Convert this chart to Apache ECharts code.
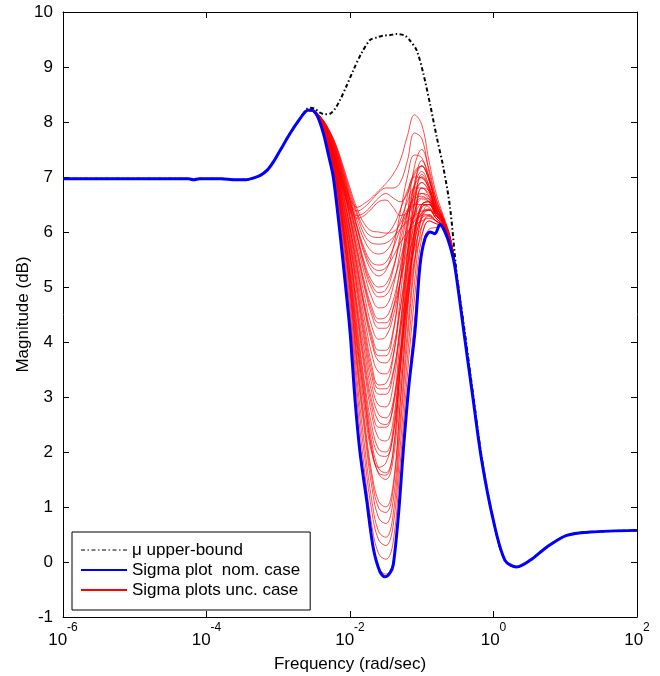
<!DOCTYPE html>
<html>
<head>
<meta charset="utf-8">
<script src="https://cdn.jsdelivr.net/npm/echarts@6/dist/echarts.min.js"></script>
<style>
html,body{margin:0;padding:0;background:#fff;}
#chart{width:660px;height:676px;}
</style>
</head>
<body>
<div id="chart"></div>
<script>
// x values are log10 of frequency (rad/sec)
const xTickExp = [-6, -4, -2, 0, 2];

// nominal sigma plot
const nomLogF = [-6, -5.5, -5, -4.5, -4.25, -4.18, -4.1, -3.8, -3.6, -3.45, -3.35, -3.25, -3.15, -3.07, -2.975,
  -2.836, -2.697, -2.6, -2.54, -2.46, -2.37, -2.3, -2.233, -2.139, -2.07, -2.0, -1.93, -1.861, -1.767, -1.675,
  -1.582, -1.512, -1.443, -1.397, -1.327, -1.257, -1.18, -1.094, -1.024, -0.955, -0.885, -0.815, -0.746, -0.676,
  -0.606, -0.537, -0.397, -0.282, -0.165, -0.003, 0.16, 0.323, 0.509, 0.741, 1.02, 1.345, 2.0];
const nomMag = [6.97, 6.97, 6.97, 6.97, 6.97, 6.95, 6.97, 6.97, 6.95, 6.95, 6.98, 7.03, 7.13, 7.27, 7.48,
  7.79, 8.06, 8.21, 8.22, 8.12, 7.79, 7.4, 7.0, 5.97, 5.12, 4.2, 2.95, 2.0, 1.12, 0.25,
  -0.18, -0.27, -0.2, -0.05, 0.82, 2.03, 3.2, 4.2, 5.4, 5.88, 6.0, 5.97, 6.14, 6.0,
  5.75, 5.36, 4.03, 2.94, 1.85, 0.76, 0.03, -0.09, 0.03, 0.27, 0.485, 0.545, 0.575];

// mu upper bound, where it leaves the nominal curve
const muLogF = [-2.6, -2.557, -2.49, -2.418, -2.35, -2.279, -2.21, -2.139, -2.05, -1.954, -1.84, -1.721, -1.62,
  -1.536, -1.44, -1.349, -1.233, -1.164, -1.07, -0.978, -0.885, -0.792, -0.70, -0.606, -0.513, -0.397, -0.282, -0.165];
const muMag = [8.24, 8.26, 8.24, 8.17, 8.14, 8.15, 8.24, 8.4, 8.65, 8.94, 9.25, 9.49, 9.54,
  9.57, 9.58, 9.6, 9.57, 9.48, 9.3, 8.88, 8.33, 7.73, 7.18, 6.45, 5.25, 4.15, 3.02, 1.9];

// uncertain cases, on a shared frequency grid
const uncLogF = [-2.6, -2.5, -2.4, -2.3, -2.2, -2.1, -2.0, -1.9, -1.8, -1.7, -1.6, -1.5,
  -1.4, -1.3, -1.2, -1.1, -1.0, -0.9, -0.8, -0.7, -0.6, -0.5, -0.4];
const uncMag = [
  [8.21, 8.17, 7.9, 7.42, 6.72, 5.55, 4.25, 2.6, 1.45, 0.4, -0.1, -0.22, 0.0, 1.4, 3.0, 4.4, 5.7, 6.05, 6.08, 6.1, 5.78, 5.03, 4.06],
  [8.21, 8.18, 7.92, 7.46, 6.8, 5.7, 4.45, 2.9, 1.7, 0.7, 0.15, 0.05, 0.35, 1.8, 3.4, 4.8, 5.9, 6.2, 6.15, 6.1, 5.8, 5.04, 4.06],
  [8.21, 8.18, 7.93, 7.5, 6.85, 5.8, 4.6, 3.1, 1.95, 0.95, 0.4, 0.3, 0.65, 2.1, 3.7, 5.1, 6.1, 6.3, 6.2, 6.12, 5.8, 5.04, 4.06],
  [8.21, 8.18, 7.94, 7.52, 6.9, 5.9, 4.75, 3.3, 2.15, 1.15, 0.55, 0.45, 0.85, 2.4, 4.0, 5.4, 6.3, 6.5, 6.3, 6.15, 5.82, 5.05, 4.07],
  [8.21, 8.18, 7.95, 7.55, 6.95, 6.0, 4.9, 3.5, 2.4, 1.4, 0.8, 0.7, 1.1, 2.6, 4.2, 5.5, 6.25, 6.4, 6.25, 6.12, 5.82, 5.05, 4.07],
  [8.21, 8.18, 7.95, 7.56, 6.98, 6.05, 5.0, 3.7, 2.6, 1.65, 1.1, 1.0, 1.4, 2.9, 4.5, 5.8, 6.5, 6.55, 6.3, 6.15, 5.83, 5.05, 4.07],
  [8.21, 8.18, 7.96, 7.58, 7.02, 6.15, 5.15, 3.95, 2.95, 2.05, 1.6, 1.5, 1.85, 3.2, 4.7, 5.9, 6.45, 6.5, 6.3, 6.15, 5.83, 5.05, 4.07],
  [8.21, 8.18, 7.97, 7.6, 7.05, 6.2, 5.25, 4.1, 3.1, 2.2, 1.7, 1.62, 2.0, 3.5, 5.1, 6.3, 6.8, 6.7, 6.35, 6.18, 5.84, 5.06, 4.07],
  [8.21, 8.18, 7.96, 7.58, 7.0, 6.1, 5.05, 3.85, 2.8, 2.0, 1.72, 1.8, 2.3, 3.5, 4.8, 5.8, 6.25, 6.3, 6.2, 6.1, 5.8, 5.04, 4.06],
  [8.21, 8.18, 7.98, 7.62, 7.1, 6.3, 5.4, 4.3, 3.3, 2.5, 2.05, 2.0, 2.4, 3.8, 5.4, 6.6, 7.0, 6.8, 6.4, 6.2, 5.85, 5.06, 4.07],
  [8.21, 8.18, 7.98, 7.63, 7.12, 6.35, 5.5, 4.45, 3.5, 2.7, 2.25, 2.2, 2.55, 3.7, 5.0, 6.0, 6.5, 6.55, 6.3, 6.15, 5.83, 5.05, 4.07],
  [8.21, 8.18, 7.99, 7.65, 7.15, 6.4, 5.6, 4.6, 3.7, 2.95, 2.55, 2.5, 2.8, 3.8, 4.9, 5.8, 6.3, 6.4, 6.25, 6.12, 5.82, 5.05, 4.07],
  [8.21, 8.18, 8.0, 7.67, 7.2, 6.5, 5.75, 4.85, 4.0, 3.25, 2.85, 2.82, 3.2, 4.3, 5.6, 6.55, 6.9, 6.75, 6.4, 6.2, 5.85, 5.06, 4.07],
  [8.21, 8.18, 8.0, 7.68, 7.22, 6.55, 5.8, 4.95, 4.1, 3.4, 3.05, 3.05, 3.4, 4.3, 5.3, 6.05, 6.45, 6.5, 6.3, 6.15, 5.83, 5.05, 4.07],
  [8.21, 8.18, 8.01, 7.7, 7.25, 6.6, 5.9, 5.1, 4.3, 3.6, 3.22, 3.25, 3.7, 4.8, 6.0, 6.85, 7.1, 6.85, 6.45, 6.22, 5.86, 5.06, 4.07],
  [8.21, 8.18, 8.01, 7.71, 7.28, 6.65, 5.98, 5.2, 4.45, 3.8, 3.45, 3.42, 3.75, 4.6, 5.6, 6.35, 6.7, 6.65, 6.35, 6.18, 5.84, 5.05, 4.07],
  [8.21, 8.18, 8.02, 7.72, 7.3, 6.7, 6.05, 5.3, 4.6, 4.0, 3.65, 3.62, 3.9, 4.6, 5.4, 6.0, 6.35, 6.42, 6.25, 6.12, 5.82, 5.05, 4.07],
  [8.21, 8.18, 8.02, 7.73, 7.32, 6.75, 6.1, 5.4, 4.7, 4.15, 3.85, 3.85, 4.2, 5.1, 6.1, 6.9, 7.2, 6.95, 6.5, 6.22, 5.86, 5.06, 4.07],
  [8.21, 8.19, 8.03, 7.75, 7.35, 6.8, 6.2, 5.5, 4.85, 4.3, 4.05, 4.1, 4.45, 5.1, 5.8, 6.35, 6.6, 6.55, 6.3, 6.15, 5.83, 5.05, 4.07],
  [8.21, 8.19, 8.03, 7.76, 7.37, 6.85, 6.25, 5.6, 5.0, 4.5, 4.25, 4.25, 4.6, 5.35, 6.15, 6.7, 6.9, 6.75, 6.4, 6.2, 5.85, 5.06, 4.07],
  [8.21, 8.19, 8.04, 7.78, 7.4, 6.9, 6.3, 5.7, 5.1, 4.65, 4.42, 4.45, 4.75, 5.3, 5.9, 6.3, 6.5, 6.5, 6.3, 6.15, 5.83, 5.05, 4.07],
  [8.21, 8.19, 8.04, 7.79, 7.42, 6.93, 6.38, 5.8, 5.25, 4.82, 4.62, 4.65, 5.0, 5.65, 6.35, 6.85, 7.0, 6.8, 6.42, 6.2, 5.85, 5.06, 4.07],
  [8.21, 8.19, 8.05, 7.8, 7.45, 6.97, 6.42, 5.9, 5.35, 4.98, 4.82, 4.85, 5.1, 5.5, 5.95, 6.2, 6.3, 6.32, 6.2, 6.1, 5.8, 5.04, 4.06],
  [8.21, 8.19, 8.05, 7.81, 7.47, 7.0, 6.5, 5.95, 5.45, 5.12, 5.0, 5.05, 5.35, 5.85, 6.35, 6.65, 6.7, 6.6, 6.35, 6.18, 5.84, 5.05, 4.07],
  [8.21, 8.19, 8.06, 7.83, 7.5, 7.05, 6.55, 6.05, 5.6, 5.3, 5.2, 5.3, 5.7, 6.35, 7.0, 7.4, 7.35, 7.0, 6.55, 6.25, 5.87, 5.06, 4.07],
  [8.21, 8.19, 8.06, 7.84, 7.52, 7.08, 6.6, 6.1, 5.7, 5.45, 5.4, 5.45, 5.7, 6.05, 6.35, 6.5, 6.5, 6.45, 6.3, 6.15, 5.83, 5.05, 4.07],
  [8.21, 8.19, 8.07, 7.85, 7.55, 7.12, 6.65, 6.2, 5.85, 5.65, 5.6, 5.65, 5.85, 6.2, 6.55, 6.8, 6.8, 6.65, 6.4, 6.2, 5.85, 5.06, 4.07],
  [8.21, 8.19, 8.07, 7.86, 7.57, 7.15, 6.7, 6.3, 5.95, 5.8, 5.78, 5.8, 5.9, 6.05, 6.2, 6.3, 6.38, 6.4, 6.3, 6.15, 5.83, 5.05, 4.07],
  [8.21, 8.19, 8.07, 7.87, 7.58, 7.18, 6.75, 6.35, 6.05, 5.92, 5.9, 5.95, 6.1, 6.4, 6.75, 7.0, 6.98, 6.8, 6.45, 6.22, 5.86, 5.06, 4.07],
  [8.21, 8.19, 8.08, 7.88, 7.6, 7.22, 6.8, 6.42, 6.15, 6.02, 6.0, 5.98, 6.0, 6.15, 6.4, 6.6, 6.65, 6.55, 6.35, 6.18, 5.84, 5.05, 4.07],
  [8.21, 8.2, 8.05, 7.75, 7.35, 6.95, 6.6, 6.45, 6.52, 6.62, 6.75, 6.88, 7.05, 7.3, 7.75, 8.13, 7.95, 7.3, 6.7, 6.3, 5.9, 5.08, 4.08],
  [8.21, 8.2, 8.04, 7.72, 7.3, 6.88, 6.52, 6.38, 6.45, 6.58, 6.72, 6.8, 6.8, 6.9, 7.3, 7.8, 7.7, 7.1, 6.6, 6.27, 5.88, 5.07, 4.08],
  [8.21, 8.2, 8.03, 7.7, 7.27, 6.82, 6.45, 6.3, 6.35, 6.48, 6.62, 6.7, 6.62, 6.55, 6.7, 7.05, 7.2, 6.95, 6.5, 6.22, 5.86, 5.06, 4.07],
  [8.21, 8.2, 8.02, 7.68, 7.24, 6.78, 6.4, 6.25, 6.3, 6.42, 6.55, 6.58, 6.45, 6.3, 6.35, 6.5, 6.62, 6.6, 6.38, 6.18, 5.84, 5.05, 4.07],
  [8.21, 8.18, 7.96, 7.59, 7.03, 6.18, 5.2, 4.0, 3.0, 2.1, 1.62, 1.58, 2.0, 3.6, 5.3, 6.5, 7.05, 6.85, 6.4, 6.2, 5.85, 5.06, 4.07],
  [8.21, 8.18, 7.97, 7.61, 7.07, 6.25, 5.3, 4.2, 3.2, 2.35, 1.95, 1.92, 2.3, 3.5, 4.9, 6.0, 6.5, 6.55, 6.3, 6.15, 5.83, 5.05, 4.07],
  [8.21, 8.18, 7.99, 7.64, 7.14, 6.4, 5.58, 4.55, 3.6, 2.85, 2.45, 2.45, 2.85, 4.1, 5.6, 6.8, 7.3, 7.0, 6.5, 6.22, 5.86, 5.06, 4.07],
  [8.21, 8.18, 8.0, 7.69, 7.24, 6.58, 5.85, 5.0, 4.2, 3.5, 3.15, 3.15, 3.45, 4.2, 5.0, 5.7, 6.1, 6.28, 6.2, 6.1, 5.8, 5.04, 4.06],
  [8.21, 8.18, 8.02, 7.72, 7.31, 6.72, 6.08, 5.35, 4.65, 4.08, 3.75, 3.75, 4.15, 5.1, 6.3, 7.2, 7.5, 7.15, 6.6, 6.25, 5.87, 5.06, 4.07],
  [8.21, 8.19, 8.04, 7.77, 7.38, 6.87, 6.28, 5.65, 5.05, 4.58, 4.35, 4.35, 4.6, 5.1, 5.65, 6.1, 6.35, 6.4, 6.25, 6.12, 5.82, 5.05, 4.07],
  [8.21, 8.19, 8.05, 7.8, 7.46, 6.98, 6.46, 5.92, 5.4, 5.05, 4.9, 4.95, 5.3, 5.95, 6.65, 7.1, 7.2, 6.95, 6.5, 6.22, 5.86, 5.06, 4.07],
  [8.21, 8.18, 7.95, 7.55, 6.96, 6.02, 4.95, 3.6, 2.5, 1.55, 0.98, 0.9, 1.3, 2.9, 4.6, 6.0, 6.8, 6.75, 6.35, 6.18, 5.84, 5.05, 4.07],
  [8.21, 8.19, 8.06, 7.84, 7.51, 7.07, 6.58, 6.08, 5.65, 5.38, 5.3, 5.35, 5.55, 5.8, 6.0, 6.12, 6.2, 6.25, 6.2, 6.1, 5.8, 5.04, 4.06],
  [8.21, 8.18, 7.99, 7.66, 7.17, 6.45, 5.65, 4.7, 3.85, 3.1, 2.68, 2.62, 2.9, 3.75, 4.7, 5.5, 5.95, 6.2, 6.15, 6.1, 5.8, 5.04, 4.06]
];

const NAME_MU = 'μ upper-bound';
const NAME_NOM = 'Sigma plot  nom. case';
const NAME_UNC = 'Sigma plots unc. case';
const FONT = 'Liberation Sans, Arial, Helvetica, sans-serif';

function toPairs(xs, ys) {
  return xs.map(function (x, i) { return [x, ys[i]]; });
}

// nominal curve pieces before / after a section
function nomBefore(x0) {
  return toPairs(nomLogF, nomMag).filter(function (p) { return p[0] < x0 - 0.02; });
}
function nomAfter(x1) {
  return toPairs(nomLogF, nomMag).filter(function (p) { return p[0] > x1 + 0.05; });
}

let seriesList = [];

// uncertain cases (drawn first, under everything)
uncMag.forEach(function (ys) {
  let data = nomBefore(uncLogF[0])
    .concat(toPairs(uncLogF, ys))
    .concat(nomAfter(uncLogF[uncLogF.length - 1]));
  seriesList.push({
    name: NAME_UNC,
    type: 'line',
    data: data,
    smooth: 0.4,
    symbol: 'none',
    silent: true,
    lineStyle: { color: '#ff0000', width: 0.7 },
    itemStyle: { color: '#ff0000' },
    z: 2
  });
});

// mu upper bound
seriesList.push({
  name: NAME_MU,
  type: 'line',
  data: nomBefore(muLogF[0])
    .concat(toPairs(muLogF, muMag))
    .concat(nomAfter(muLogF[muLogF.length - 1])),
  smooth: 0.3,
  symbol: 'none',
  silent: true,
  lineStyle: { color: '#000000', width: 2, type: [4, 2.5, 1.5, 2.5] },
  itemStyle: { color: '#000000' },
  z: 3
});

// nominal
seriesList.push({
  name: NAME_NOM,
  type: 'line',
  data: toPairs(nomLogF, nomMag),
  smooth: 0.3,
  symbol: 'none',
  silent: true,
  lineStyle: { color: '#0000ff', width: 3 },
  itemStyle: { color: '#0000ff' },
  z: 4
});

const axisCommonX = {
  type: 'value',
  min: xTickExp[0],
  max: xTickExp[xTickExp.length - 1],
  interval: 2,
  axisLine: { show: true, onZero: false, lineStyle: { color: '#000', width: 1 } },
  axisTick: { show: true, inside: true, length: 6, lineStyle: { color: '#000' } },
  splitLine: { show: false }
};
const axisCommonY = {
  type: 'value',
  min: -1,
  max: 10,
  interval: 1,
  axisLine: { show: true, onZero: false, lineStyle: { color: '#000', width: 1 } },
  axisTick: { show: true, inside: true, length: 6, lineStyle: { color: '#000' } },
  splitLine: { show: false }
};

let chart = echarts.init(document.getElementById('chart'), null, { renderer: 'canvas' });
chart.setOption({
  animation: false,
  backgroundColor: '#ffffff',
  grid: { left: 63, right: 23, top: 12, bottom: 59, containLabel: false, outerBoundsMode: 'none' },
  legend: {
    data: [
      { name: NAME_MU, lineStyle: { width: 1.2 } },
      { name: NAME_NOM },
      { name: NAME_UNC }
    ],
    orient: 'vertical',
    left: 72,
    top: 532,
    itemWidth: 46,
    itemHeight: 20,
    itemGap: 0,
    padding: [8, 10, 10, 8],
    borderColor: '#000',
    borderWidth: 1,
    borderRadius: 0,
    backgroundColor: '#ffffff',
    selectedMode: false,
    itemStyle: { opacity: 0 },
    textStyle: { fontFamily: FONT, fontSize: 17, color: '#000', lineHeight: 20 }
  },
  xAxis: [
    Object.assign({}, axisCommonX, {
      position: 'bottom',
      name: 'Frequency (rad/sec)',
      nameLocation: 'middle',
      nameGap: 39,
      nameMoveOverlap: false,
      nameTextStyle: { fontFamily: FONT, fontSize: 17, color: '#000' },
      axisLabel: {
        margin: 5,
        color: '#000',
        formatter: function (v) { return '{b|10}{s|' + v + '}'; },
        rich: {
          b: { fontFamily: FONT, fontSize: 17, lineHeight: 27, verticalAlign: 'bottom', color: '#000' },
          s: { fontFamily: FONT, fontSize: 12, lineHeight: 12, verticalAlign: 'top', color: '#000' }
        }
      }
    }),
    Object.assign({}, axisCommonX, {
      position: 'top',
      axisLabel: { show: false }
    })
  ],
  yAxis: [
    Object.assign({}, axisCommonY, {
      position: 'left',
      name: 'Magnitude (dB)',
      nameLocation: 'middle',
      nameGap: 31,
      nameMoveOverlap: false,
      nameTextStyle: { fontFamily: FONT, fontSize: 17, color: '#000' },
      axisLabel: { margin: 10, color: '#000', fontFamily: FONT, fontSize: 17 }
    }),
    Object.assign({}, axisCommonY, {
      position: 'right',
      axisLabel: { show: false }
    })
  ],
  series: seriesList
});
</script>
</body>
</html>
